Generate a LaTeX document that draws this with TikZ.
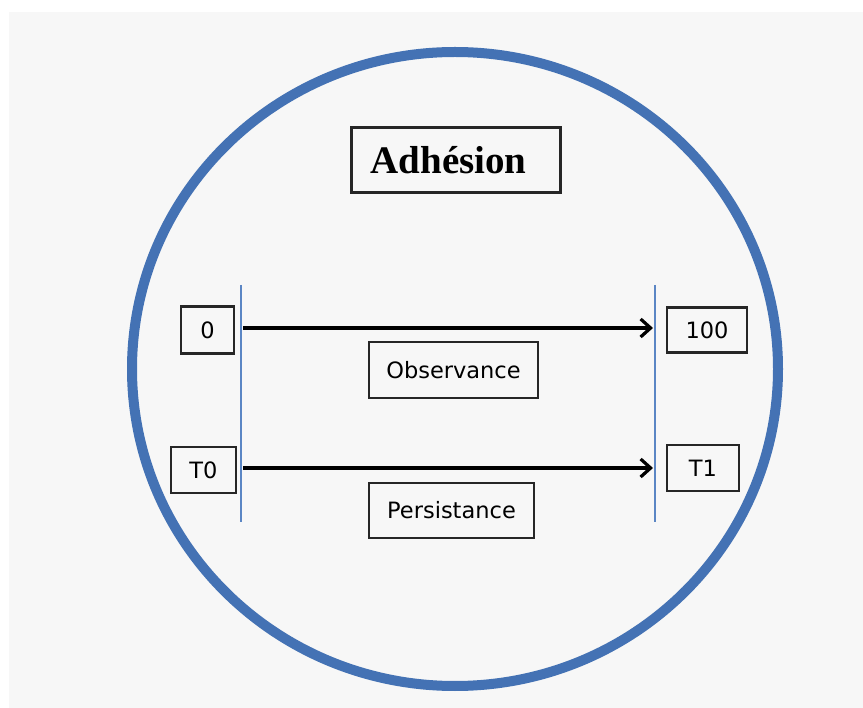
\documentclass[tikz,border=0pt]{standalone}
\usepackage{fontspec}
\setmainfont{DejaVu Sans}
\newfontfamily\titlefont{Liberation Serif}
\usepackage{tikz}
\usetikzlibrary{arrows.meta}
\definecolor{ringblue}{HTML}{4472B4}
\definecolor{lineblue}{HTML}{5B86C4}
\definecolor{paper}{HTML}{F7F7F7}
\tikzset{
  box/.style = {draw=black!85, line width=2.2pt, fill=paper, inner sep=0pt,
    font=\fontsize{22.5}{26}\selectfont},% cadre simple
  titlebox/.style = {box, font=\titlefont\bfseries\fontsize{39}{42}\selectfont,
    text width=171pt, align=left, inner xsep=19pt},% cadre du titre
  bound/.style = {draw=lineblue, line width=1.3pt},% borne verticale
  span/.style = {draw=black, line width=3.2pt,
    -{Straight Barb[length=10pt, width=18pt, line width=3.2pt]}}% fleche
}
\begin{document}
\begin{tikzpicture}[x=1pt, y=-1pt]
  \useasboundingbox (0,0) rectangle (863,708);
  \fill[paper] (9,12) rectangle (863,708);
  % anneau
  \draw[ringblue, line width=10pt] (455,369) ellipse [x radius=323, y radius=317];
  % titre
  \node[titlebox, minimum width=209pt, minimum height=65pt] (title) at (456,160) {Adhésion};
  % bornes
  \coordinate (lt) at (241,285);
  \coordinate (lb) at (241,522);
  \coordinate (rt) at (655,285);
  \coordinate (rb) at (655,522);
  \draw[bound] (lt) -- (lb);
  \draw[bound] (rt) -- (rb);
  % observance
  \node[box, minimum width=53pt, minimum height=47pt] (zero) at (207.5,330) {0};
  \node[box, minimum width=80pt, minimum height=45pt] (hundred) at (707,330) {100};
  \coordinate (oa) at (243,328);
  \coordinate (ob) at (653,328);
  \draw[span] (oa) -- (ob);
  \node[box, minimum width=169pt, minimum height=56pt] (obs) at (453.5,370) {Observance};
  % persistance
  \node[box, minimum width=65pt, minimum height=46pt] (tzero) at (203.5,470) {T0};
  \node[box, minimum width=72pt, minimum height=46pt] (tone) at (703,468) {T1};
  \coordinate (pa) at (243,468);
  \coordinate (pb) at (653,468);
  \draw[span] (pa) -- (pb);
  \node[box, minimum width=165pt, minimum height=55pt] (pers) at (451.5,510.5) {Persistance};
\end{tikzpicture}
\end{document}
